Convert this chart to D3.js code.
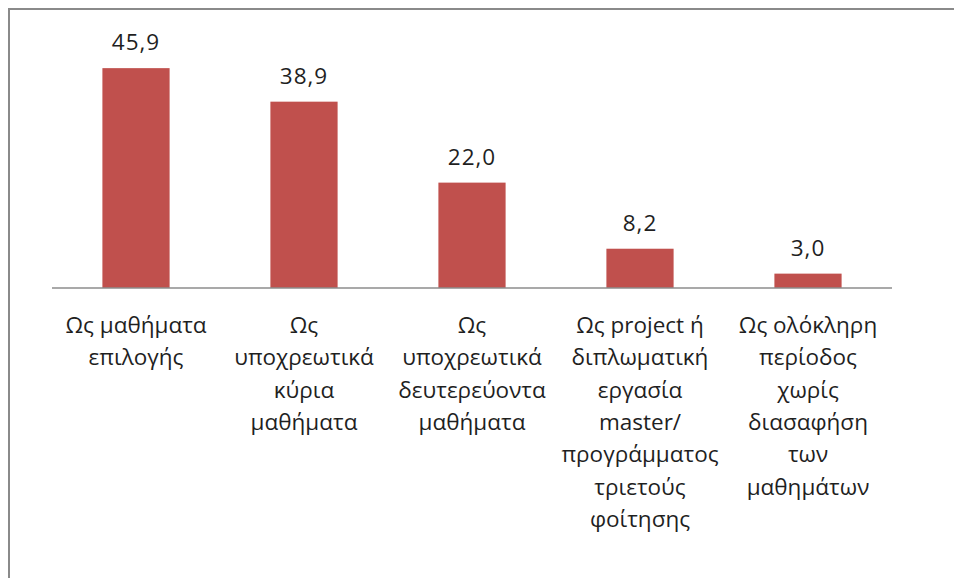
<html>
  <head>
    <style>
body { margin: 0; background: white; }
text {
  font-family: "Open Sans", sans-serif;
  fill: #1f1f1f;
}
    </style>
    <script src="https://d3js.org/d3.v7.min.js"></script>
  </head>
  <body>
    <div id="viz"></div>
    <script>

// data
var categories = ['Ως μαθήματα επιλογής',
  'Ως υποχρεωτικά κύρια μαθήματα',
  'Ως υποχρεωτικά δευτερεύοντα μαθήματα',
  'Ως project ή διπλωματική εργασία master/ προγράμματος τριετούς φοίτησης',
  'Ως ολόκληρη περίοδος χωρίς διασαφήση των μαθημάτων'];
var values = [45.9, 38.9, 22.0, 8.2, 3.0];
// line breaks as in the original labels
var labelLines = [
  ['Ως μαθήματα', 'επιλογής'],
  ['Ως', 'υποχρεωτικά', 'κύρια', 'μαθήματα'],
  ['Ως', 'υποχρεωτικά', 'δευτερεύοντα', 'μαθήματα'],
  ['Ως project ή', 'διπλωματική', 'εργασία', 'master/', 'προγράμματος', 'τριετούς', 'φοίτησης'],
  ['Ως ολόκληρη', 'περίοδος', 'χωρίς', 'διασαφήση', 'των', 'μαθημάτων']
];

var width = 954,
    height = 578;

var svg = d3.select('#viz')
    .append('svg')
    .attr('width', width)
    .attr('height', height);

// frame (only top and left edges visible in the crop)
svg.append('path')
    .attr('d', 'M9,' + height + 'V9H' + width)
    .attr('fill', 'none')
    .attr('stroke', '#8a8a8a')
    .attr('stroke-width', 2);

var x = d3.scaleBand()
    .domain(categories)
    .range([52, 892])
    .paddingInner(0.6)
    .paddingOuter(0.3);

var y = d3.scaleLinear()
    .domain([0, 50])
    .range([288, 48.5]);

svg.append('g')
  .selectAll('rect')
  .data(values)
  .enter().append('rect')
    .attr('x', function(d, i) { return x(categories[i]); })
    .attr('y', function(d) { return y(d); })
    .attr('width', x.bandwidth())
    .attr('height', function(d) { return y(0) - y(d); })
    .attr('fill', '#c0504d');

// baseline
svg.append('line')
    .attr('x1', x.range()[0])
    .attr('x2', x.range()[1])
    .attr('y1', y(0))
    .attr('y2', y(0))
    .attr('stroke', '#8c8c8c')
    .attr('stroke-width', 1.5);

svg.append('g')
  .selectAll('text')
  .data(values)
  .enter().append('text')
    .attr('x', function(d, i) { return x(categories[i]) + x.bandwidth() / 2; })
    .attr('y', function(d) { return y(d) - 18; })
    .attr('text-anchor', 'middle')
    .style('font-size', '22.5px')
    .style('letter-spacing', '1px')
    .text(function(d) { return d3.format('.1f')(d).replace('.', ','); });

var labels = svg.append('g')
  .selectAll('text')
  .data(labelLines)
  .enter().append('text')
    .attr('text-anchor', 'middle')
    .style('font-size', '22.5px');

labels.selectAll('tspan')
  .data(function(d, i) { return d.map(function(s) { return {s: s, i: i}; }); })
  .enter().append('tspan')
    .attr('x', function(d) { return x(categories[d.i]) + x.bandwidth() / 2; })
    .attr('y', function(d, j) { return y(0) + 45 + j * 32.3; })
    .text(function(d) { return d.s; });

    </script>
  </body>
</html>
